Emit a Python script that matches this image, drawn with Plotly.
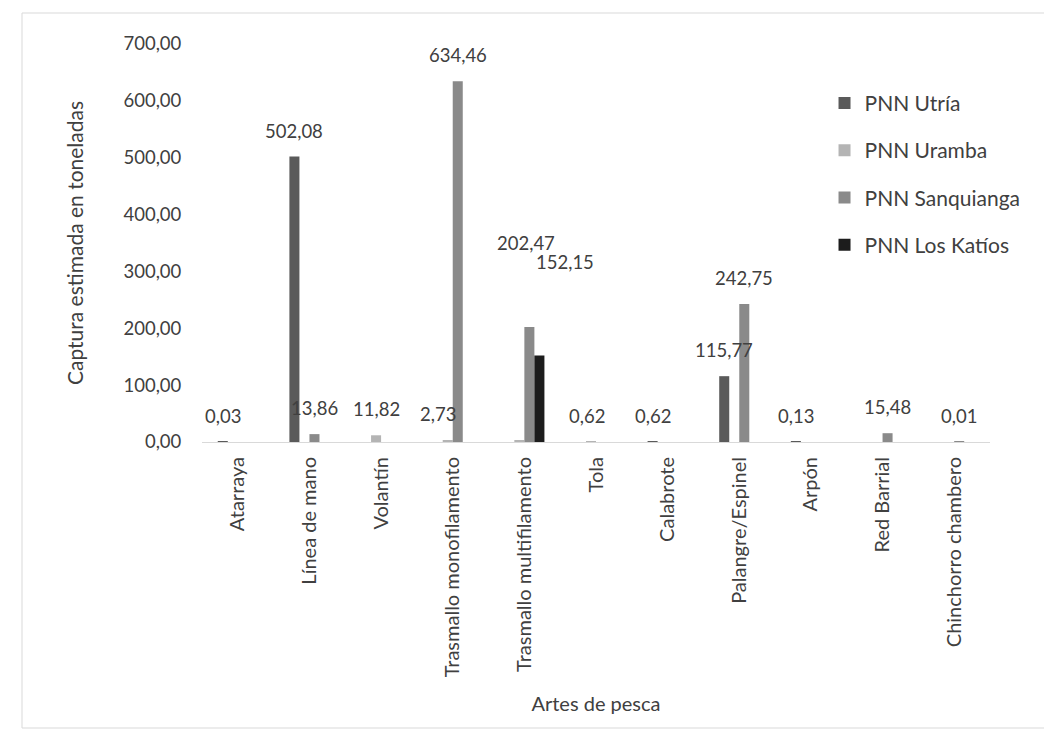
import plotly.graph_objects as go

categories = ["Atarraya", "Línea de mano", "Volantín", "Trasmallo monofilamento",
              "Trasmallo multifilamento", "Tola", "Calabrote", "Palangre/Espinel",
              "Arpón", "Red Barrial", "Chinchorro chambero"]

utria      = [0.03, 502.08, None, None, None, None, 0.62, 115.77, 0.13, None, None]
uramba     = [None, None, 11.82, 2.73, 2.5, 0.62, None, None, None, None, None]
sanquianga = [None, 13.86, None, 634.46, 202.47, None, None, 242.75, None, 15.48, 0.01]
katios     = [None, None, None, None, 152.15, None, None, None, None, None, None]

series_names = ["PNN Utría", "PNN Uramba", "PNN Sanquianga", "PNN Los Katíos"]
series_values = [utria, uramba, sanquianga, katios]
series_colors = ["#5a5a5a", "#b4b4b4", "#8a8a8a", "#1c1c1c"]

# data labels that were not shown in the source chart
hidden_labels = {("PNN Uramba", "Trasmallo multifilamento")}
# manual label nudges (pixels) as in the source chart
label_nudge = {
    ("PNN Uramba", "Trasmallo monofilamento"): (-10, 0),
    ("PNN Sanquianga", "Trasmallo multifilamento"): (-3, 58),
    ("PNN Los Katíos", "Trasmallo multifilamento"): (26, 67),
    ("PNN Uramba", "Tola"): (-4, 0),
}

def fmt(v):
    return f"{v:.2f}".replace(".", ",")

FONT = "Lato"
TXT = "#404040"
BAR_PX = 10.0  # approx. bar width in pixels, for label centring

fig = go.Figure()
annotations = []
n = len(series_names)
for i, (name, vals, color) in enumerate(zip(series_names, series_values, series_colors)):
    fig.add_trace(go.Bar(
        name=name, x=categories, y=vals, marker_color=color,
        marker_line_width=0, legendgroup=f"g{i}",
    ))
    slot = (i - (n - 1) / 2) * BAR_PX
    for cat, v in zip(categories, vals):
        if v is None or (name, cat) in hidden_labels:
            continue
        dx, dy = label_nudge.get((name, cat), (0, 0))
        annotations.append(dict(
            x=cat, y=v, xref="x", yref="y", text=fmt(v), showarrow=False,
            xanchor="center", yanchor="bottom",
            xshift=slot + dx, yshift=13 + dy,
            font=dict(family=FONT, size=18.5, color=TXT),
        ))

# page has an 8px body offset; plot area lands at x 202..990, y 44..442
fig.update_layout(
    width=1052, height=736,
    barmode="group", bargap=0.44, bargroupgap=0,
    plot_bgcolor="white", paper_bgcolor="white",
    font=dict(family=FONT, size=18, color=TXT),
    margin=dict(l=194, r=70, t=36, b=302),
    separators=",.",
    legend=dict(
        x=0.79, y=0.9025, xanchor="left", yanchor="top",
        traceorder="grouped", tracegroupgap=17,
        font=dict(family=FONT, size=21, color=TXT),
        bgcolor="rgba(0,0,0,0)", itemwidth=30,
    ),
    xaxis=dict(
        showgrid=False, showline=True, linecolor="#d9d9d9", linewidth=1,
        tickangle=-90, ticks="outside", ticklen=6, tickcolor="rgba(0,0,0,0)",
        tickfont=dict(family=FONT, size=20, color=TXT),
        title=dict(text="Artes de pesca", standoff=20,
                   font=dict(family=FONT, size=20, color=TXT)),
    ),
    yaxis=dict(
        range=[0, 700], dtick=100, tickformat=".2f",
        showgrid=False, zeroline=False, showline=False,
        ticks="outside", ticklen=16, tickcolor="rgba(0,0,0,0)",
        tickfont=dict(family=FONT, size=18.5, color=TXT),
        title=dict(text="Captura estimada en toneladas", standoff=34,
                   font=dict(family=FONT, size=21, color=TXT)),
    ),
    annotations=annotations,
    shapes=[dict(type="rect", xref="paper", yref="paper",
                 x0=(22 - 202) / 788, x1=(1049 - 202) / 788,
                 y0=(442 - 728) / 398, y1=(442 - 13) / 398,
                 line=dict(color="#d9d9d9", width=1), fillcolor="rgba(0,0,0,0)",
                 layer="below")],
)

fig.write_html("out.html")
